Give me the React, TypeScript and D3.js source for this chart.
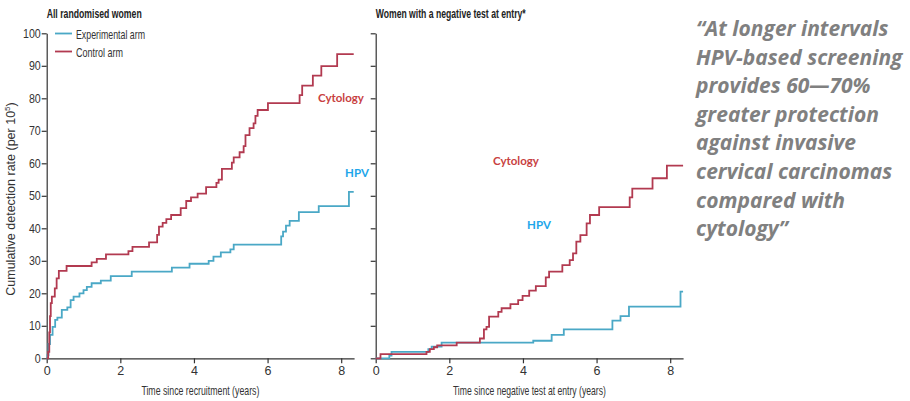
import * as d3 from 'd3'
import React, { useRef, useEffect } from 'react'

// step curves: [years, rate per 10^5]
const allControl: [number, number][] = [
  [0, 0], [0.04, 2], [0.07, 8], [0.09, 13], [0.11, 17], [0.14, 19], [0.22, 21.5], [0.27, 24.6],
  [0.33, 26.9], [0.54, 28.4], [1.22, 29.5], [1.36, 30.6], [1.61, 32], [2.22, 33], [2.33, 34.3],
  [2.78, 35.7], [3.0, 38], [3.05, 40.5], [3.15, 41.7], [3.25, 42.8], [3.38, 44.1], [3.64, 46.2],
  [3.79, 48.4], [3.92, 49.5], [4.1, 50.7], [4.33, 52.7], [4.61, 54], [4.67, 55], [4.76, 58.3],
  [5.03, 60.2], [5.08, 61.8], [5.24, 63.4], [5.35, 65.3], [5.4, 68.7], [5.51, 70.8], [5.62, 72.3],
  [5.67, 74.6], [5.73, 76.4], [6.01, 78.5], [6.87, 81], [6.94, 83.9], [7.23, 87], [7.46, 89.9],
  [7.89, 93.6], [8.34, 93.6]
]
const allExperimental: [number, number][] = [
  [0, 0], [0.02, 1], [0.05, 4.4], [0.09, 7.2], [0.16, 9.7], [0.23, 11.8], [0.29, 12.5], [0.41, 14.9],
  [0.56, 15.7], [0.65, 17.9], [0.73, 19], [0.89, 20], [1.0, 21], [1.09, 22], [1.22, 23.1], [1.47, 23.9],
  [1.74, 25.3], [2.31, 26.7], [3.4, 27.9], [3.88, 29.1], [4.4, 30], [4.53, 31.3], [4.73, 32.6],
  [4.99, 33.5], [5.08, 35], [6.37, 37.5], [6.42, 39], [6.5, 40.8], [6.6, 42.3], [6.85, 45],
  [7.39, 46.8], [8.21, 51.2], [8.34, 51.2]
]
const negControl: [number, number][] = [
  [0, 0], [0.13, 1.3], [1.38, 2.0], [1.47, 2.8], [1.58, 3.4], [1.67, 4.0], [2.2, 4.8], [2.83, 6.1],
  [2.94, 8.9], [3.01, 9.7], [3.08, 12.8], [3.33, 14.3], [3.42, 15.4], [3.66, 16.7], [3.87, 17.9],
  [3.99, 19.2], [4.17, 20.8], [4.35, 22.2], [4.62, 24.9], [4.71, 26.7], [5.07, 28.7], [5.27, 30.2],
  [5.36, 32.3], [5.45, 35.9], [5.56, 37.9], [5.73, 41.5], [5.82, 44.1], [6.07, 46.5], [6.9, 49.5],
  [6.97, 52.2], [7.52, 55.4], [7.91, 59.3], [8.35, 59.3]
]
const negExperimental: [number, number][] = [
  [0, 0], [0.37, 0.8], [0.43, 2.0], [1.43, 2.8], [1.52, 3.6], [1.79, 4.8], [4.28, 5.4], [4.78, 7.2],
  [5.11, 8.9], [6.43, 11.6], [6.65, 13], [6.88, 15.9], [8.28, 20.5], [8.35, 20.5]
]

const xTicks = [0, 2, 4, 6, 8]
const yTicks = [0, 10, 20, 30, 40, 50, 60, 70, 80, 90, 100]
const legendLabels = ['Experimental arm', 'Control arm']
const quoteLines = [
  '\u201CAt longer intervals',
  'HPV-based screening',
  'provides 60\u201470%',
  'greater protection',
  'against invasive',
  'cervical carcinomas',
  'compared with',
  'cytology\u201D'
]

const red = '#b23a50'
const blue = '#4aa8c6'
const narrow = '"Liberation Sans", sans-serif'

// squeeze text to the width it has in the picture (condensed face)
const fit = (sel, w) => sel.attr('textLength', w).attr('lengthAdjust', 'spacingAndGlyphs')

const App = () => {
  const myRef = useRef(null)

  useEffect(() => {
    const svg = d3.select(myRef.current)
    svg.selectAll('*').remove()

    const y = d3.scaleLinear().domain([0, 100]).range([358.3, 33.3])

    const panels = [
      {
        left: 46.7, title: 'All randomised women', titleW: 95,
        xlabel: 'Time since recruitment (years)', xlabelW: 118,
        exp: allExperimental, ctl: allControl, labelled: true,
        cyto: [341, 101.5], hpv: [357, 176.5]
      },
      {
        left: 375.7, title: 'Women with a negative test at entry*', titleW: 150,
        xlabel: 'Time since negative test at entry (years)', xlabelW: 153,
        exp: negExperimental, ctl: negControl, labelled: false,
        cyto: [516, 164.5], hpv: [539, 228.5]
      }
    ]

    panels.forEach(p => {
      const x = d3.scaleLinear().domain([0, 8]).range([p.left, p.left + 294.5])
      const g = svg.append('g')

      const yAxis = d3.axisLeft(y).tickValues(yTicks).tickSize(5).tickSizeOuter(0).tickPadding(2)
      if (!p.labelled) yAxis.tickFormat(() => '')
      g.append('g')
        .attr('transform', `translate(${p.left},0)`)
        .call(yAxis)
        .call(a => a.selectAll('text').style('font-family', narrow).style('font-size', '12.5px')
          .attr('fill', '#333').attr('transform', 'scale(0.85,1)'))
        .call(a => a.selectAll('path,line').attr('stroke', '#333').attr('stroke-width', 1.2))

      const xAxis = d3.axisBottom(d3.scaleLinear().domain([0, 8.35]).range([x(0), x(8.35)]))
        .tickValues(xTicks).tickSize(5).tickSizeOuter(0).tickPadding(3)
      g.append('g')
        .attr('transform', `translate(0,${y(0)})`)
        .call(xAxis)
        .call(a => a.selectAll('text').style('font-family', narrow).style('font-size', '12.5px').attr('fill', '#333'))
        .call(a => a.selectAll('path,line').attr('stroke', '#333').attr('stroke-width', 1.2))

      g.append('text')
        .attr('x', p.left).attr('y', 17.5)
        .style('font-family', narrow).style('font-size', '13px').style('font-weight', 'bold')
        .attr('fill', '#222')
        .text(p.title)
        .call(fit, p.titleW)

      g.append('text')
        .attr('x', (x(0) + x(8.35)) / 2).attr('y', 394.5)
        .attr('text-anchor', 'middle')
        .style('font-family', narrow).style('font-size', '13px')
        .attr('fill', '#333')
        .text(p.xlabel)
        .call(fit, p.xlabelW)

      const line = d3.line<[number, number]>()
        .x(d => x(d[0]))
        .y(d => y(d[1]))
        .curve(d3.curveStepAfter)

      g.append('path').attr('d', line(p.exp)).attr('fill', 'none').attr('stroke', blue).attr('stroke-width', 1.8)
      g.append('path').attr('d', line(p.ctl)).attr('fill', 'none').attr('stroke', red).attr('stroke-width', 1.8)

      g.append('text')
        .attr('x', p.cyto[0]).attr('y', p.cyto[1])
        .attr('text-anchor', 'middle')
        .style('font-family', 'Lato, sans-serif').style('font-size', '11.5px').style('font-weight', 'bold')
        .attr('fill', '#c8413f')
        .text('Cytology')
      g.append('text')
        .attr('x', p.hpv[0]).attr('y', p.hpv[1])
        .attr('text-anchor', 'middle')
        .style('font-family', 'Lato, sans-serif').style('font-size', '11.5px').style('font-weight', 'bold')
        .attr('fill', '#1ea6ea')
        .text('HPV')
    })

    // legend
    const legend = svg.append('g')
    const legendW = [69, 47]
    legendLabels.forEach((l, i) => {
      const ly = 33.5 + i * 18
      legend.append('line')
        .attr('x1', 55).attr('x2', 72).attr('y1', ly).attr('y2', ly)
        .attr('stroke', i === 0 ? blue : red).attr('stroke-width', 1.8)
      legend.append('text')
        .attr('x', 76).attr('y', ly + 5)
        .style('font-family', narrow).style('font-size', '13px')
        .attr('fill', '#333')
        .text(l)
        .call(fit, legendW[i])
    })

    // y axis title
    const yTitle = svg.append('text')
      .attr('transform', 'translate(15,199) rotate(-90)')
      .attr('text-anchor', 'middle')
      .style('font-family', '"Liberation Sans", sans-serif').style('font-size', '12.5px')
      .attr('fill', '#333')
    yTitle.append('tspan').text('Cumulative detection rate (per 10')
    yTitle.append('tspan').attr('dy', -5).style('font-size', '8px').text('5')
    yTitle.append('tspan').attr('dy', 5).text(')')

    // quote
    const quote = svg.append('text')
      .style('font-family', '"Open Sans", sans-serif').style('font-size', '21px')
      .style('font-weight', 'bold').style('font-style', 'italic')
      .attr('fill', '#808080')
    quoteLines.forEach((q, i) => {
      quote.append('tspan').attr('x', 696).attr('y', 36 + i * 28.6).text(q)
    })
  }, [])

  return (
    <svg ref={myRef} width={910} height={401}
      style={{ position: 'absolute', left: 0, top: 0, background: '#fff' }} />
  )
}

export default App
